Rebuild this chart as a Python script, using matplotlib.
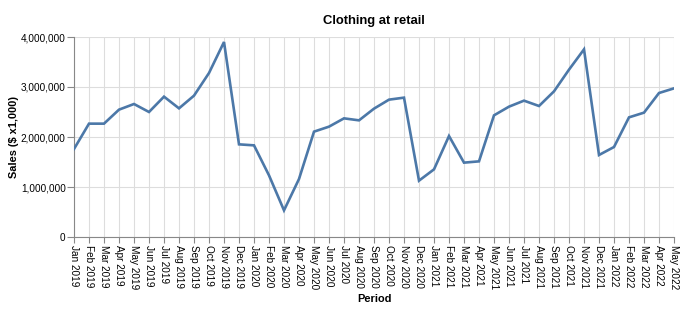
import matplotlib
matplotlib.use("Agg")
import matplotlib.pyplot as plt
from matplotlib.ticker import FuncFormatter, FixedLocator

periods = ["Jan 2019", "Feb 2019", "Mar 2019", "Apr 2019", "May 2019", "Jun 2019",
           "Jul 2019", "Aug 2019", "Sep 2019", "Oct 2019", "Nov 2019", "Dec 2019",
           "Jan 2020", "Feb 2020", "Mar 2020", "Apr 2020", "May 2020", "Jun 2020",
           "Jul 2020", "Aug 2020", "Sep 2020", "Oct 2020", "Nov 2020", "Dec 2020",
           "Jan 2021", "Feb 2021", "Mar 2021", "Apr 2021", "May 2021", "Jun 2021",
           "Jul 2021", "Aug 2021", "Sep 2021", "Oct 2021", "Nov 2021", "Dec 2021",
           "Jan 2022", "Feb 2022", "Mar 2022", "Apr 2022", "May 2022"]
sales = [1760000, 2267000, 2267000, 2547000, 2660000, 2500000,
         2807000, 2573000, 2827000, 3280000, 3900000, 1853000,
         1833000, 1233000, 533000, 1160000, 2107000, 2207000,
         2373000, 2333000, 2567000, 2747000, 2787000, 1127000,
         1353000, 2020000, 1487000, 1513000, 2433000, 2607000,
         2727000, 2620000, 2913000, 3347000, 3753000, 1640000,
         1800000, 2393000, 2487000, 2880000, 2973000]
y_ticks = [0, 1000000, 2000000, 3000000, 4000000]

plt.rcParams['font.family'] = ['Liberation Sans', 'DejaVu Sans']

W, H = 688, 314
fig = plt.figure(figsize=(W / 100, H / 100), dpi=100)
ax = fig.add_axes([74/W, 1-237/H, 600/W, 200/H])

x = list(range(len(periods)))
ax.plot(x, sales, color="#4c78a8", linewidth=1.9, solid_joinstyle="miter", zorder=3)

ax.set_xlim(0, len(periods) - 1)
ax.set_ylim(0, 4000000)
ax.xaxis.set_major_locator(FixedLocator(x))
ax.set_xticklabels(periods, rotation=-90, fontsize=7.2, va="top", ha="center")
ax.yaxis.set_major_locator(FixedLocator(y_ticks))
ax.yaxis.set_major_formatter(FuncFormatter(lambda v, p: f"{int(v):,}"))
ax.tick_params(axis="y", labelsize=7.2, length=5, width=0.8, color="#888888", pad=1)
ax.tick_params(axis="x", length=4, width=0.8, color="#888888", pad=2)

ax.grid(True, color="#dddddd", linewidth=0.8, zorder=0)
ax.set_axisbelow(True)
for s in ["top", "right"]:
    ax.spines[s].set_visible(False)
for s in ["left", "bottom"]:
    ax.spines[s].set_color("#888888")
    ax.spines[s].set_linewidth(0.8)

fig.text(374/W, 1-21/H, "Clothing at retail", fontsize=9.4, fontweight="bold",
         ha="center", va="center")
fig.text(374/W, 1-298.5/H, "Period", fontsize=7.9, fontweight="bold",
         ha="center", va="center")
fig.text(14/W, 1-137/H, "Sales ($ x1,000)", fontsize=7.9, fontweight="bold",
         ha="center", va="center", rotation=90)

fig.savefig("out.png", dpi=100)
